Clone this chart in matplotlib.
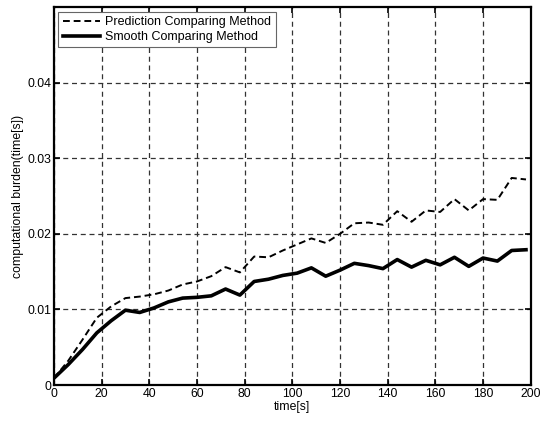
import matplotlib
matplotlib.use("Agg")
import matplotlib.pyplot as plt

# sample times (s), one point every 6 s
t = [0, 6, 12, 18, 24, 30, 36, 42, 48, 54, 60, 66, 72, 78, 84, 90, 96,
     102, 108, 114, 120, 126, 132, 138, 144, 150, 156, 162, 168, 174, 180,
     186, 192, 198]

prediction = [0.0009, 0.0032, 0.0060, 0.0089, 0.0104, 0.0115, 0.0117, 0.0120,
              0.0125, 0.0133, 0.0137, 0.0144, 0.0156, 0.0149, 0.0170, 0.0169,
              0.0178, 0.0186, 0.0194, 0.0188, 0.0200, 0.0214, 0.0215, 0.0212,
              0.0230, 0.0216, 0.0231, 0.0229, 0.0246, 0.0231, 0.0246, 0.0245,
              0.0274, 0.0272]

smooth = [0.0009, 0.0027, 0.0047, 0.0069, 0.0085, 0.0099, 0.0096, 0.0102,
          0.0110, 0.0115, 0.0116, 0.0118, 0.0127, 0.0119, 0.0137, 0.0140,
          0.0145, 0.0148, 0.0155, 0.0144, 0.0152, 0.0161, 0.0158, 0.0154,
          0.0166, 0.0156, 0.0165, 0.0159, 0.0169, 0.0157, 0.0168, 0.0164,
          0.0178, 0.0179]

xticks = [0, 20, 40, 60, 80, 100, 120, 140, 160, 180, 200]
yticks = [0, 0.01, 0.02, 0.03, 0.04]
ytick_labels = ["0", "0.01", "0.02", "0.03", "0.04"]

plt.rcParams["font.family"] = ["Liberation Sans", "DejaVu Sans"]

fig = plt.figure(figsize=(5.5, 4.21), dpi=100)
ax = fig.add_axes([0.098, 0.0855, 0.867, 0.8975])

ax.plot(t, prediction, color="black", lw=1.4, ls=(0, (3.5, 2)),
        label="Prediction Comparing Method")
ax.plot(t, smooth, color="black", lw=2.6, label="Smooth Comparing Method")

ax.set_xlim(0, 200)
ax.set_ylim(0, 0.05)
ax.set_xticks(xticks)
ax.set_yticks(yticks)
ax.set_yticklabels(ytick_labels)
ax.tick_params(direction="in", top=True, right=True, length=4, width=1.2,
               labelsize=8.8, pad=2)
ax.grid(True, color="#333333", ls=(0, (4, 3)), lw=0.9)
for s in ax.spines.values():
    s.set_linewidth(1.6)

ax.set_xlabel("time[s]", fontsize=8.8, labelpad=1)
ax.set_ylabel("computational burden(time[s])", fontsize=8.8, labelpad=2)

leg = ax.legend(loc="upper left", fontsize=9.0, fancybox=False,
                edgecolor="#666666", framealpha=1, borderaxespad=0.35,
                handlelength=3.0, handletextpad=0.4, labelspacing=0.25,
                borderpad=0.35)
leg.get_frame().set_linewidth(0.8)

fig.savefig("out.png", dpi=100)
